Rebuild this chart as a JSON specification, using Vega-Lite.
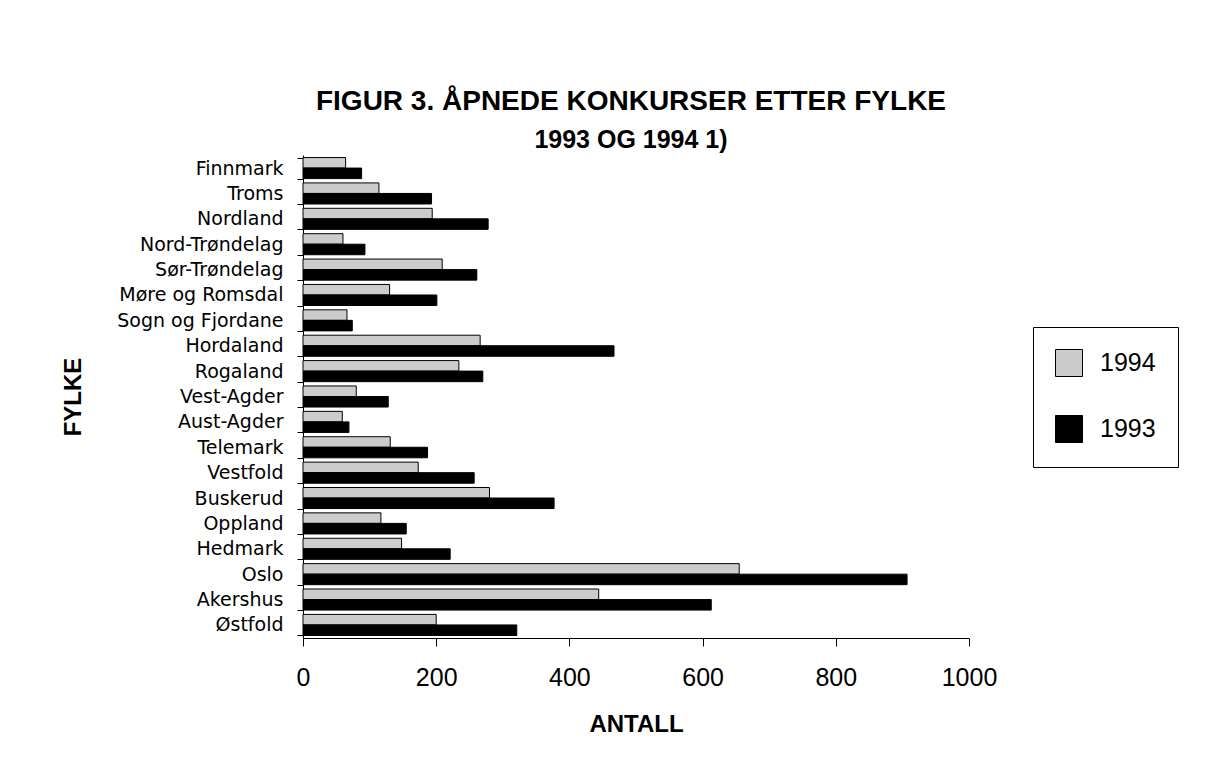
{
  "$schema": "https://vega.github.io/schema/vega-lite/v6.json",
  "width": 666,
  "height": 483,
  "autosize": {"type": "none"},
  "padding": {"left": 303, "top": 155, "right": 237, "bottom": 139},
  "background": "white",
  "title": {
    "text": "FIGUR 3. ÅPNEDE KONKURSER ETTER FYLKE",
    "subtitle": "1993 OG 1994 1)",
    "font": "Liberation Sans",
    "fontSize": 28,
    "fontWeight": "bold",
    "color": "black",
    "subtitleFont": "Liberation Sans",
    "subtitleFontSize": 25,
    "subtitleFontWeight": "bold",
    "subtitleColor": "black",
    "anchor": "middle",
    "offset": -7,
    "subtitlePadding": 12,
    "dx": -5
  },
  "data": {
    "values": [
      {"fylke": "Finnmark", "year": "1994", "antall": 64},
      {"fylke": "Finnmark", "year": "1993", "antall": 88},
      {"fylke": "Troms", "year": "1994", "antall": 114},
      {"fylke": "Troms", "year": "1993", "antall": 193},
      {"fylke": "Nordland", "year": "1994", "antall": 194},
      {"fylke": "Nordland", "year": "1993", "antall": 278},
      {"fylke": "Nord-Trøndelag", "year": "1994", "antall": 60},
      {"fylke": "Nord-Trøndelag", "year": "1993", "antall": 93},
      {"fylke": "Sør-Trøndelag", "year": "1994", "antall": 209},
      {"fylke": "Sør-Trøndelag", "year": "1993", "antall": 261},
      {"fylke": "Møre og Romsdal", "year": "1994", "antall": 130},
      {"fylke": "Møre og Romsdal", "year": "1993", "antall": 201},
      {"fylke": "Sogn og Fjordane", "year": "1994", "antall": 66},
      {"fylke": "Sogn og Fjordane", "year": "1993", "antall": 74},
      {"fylke": "Hordaland", "year": "1994", "antall": 266},
      {"fylke": "Hordaland", "year": "1993", "antall": 467},
      {"fylke": "Rogaland", "year": "1994", "antall": 234},
      {"fylke": "Rogaland", "year": "1993", "antall": 270},
      {"fylke": "Vest-Agder", "year": "1994", "antall": 80},
      {"fylke": "Vest-Agder", "year": "1993", "antall": 128},
      {"fylke": "Aust-Agder", "year": "1994", "antall": 59},
      {"fylke": "Aust-Agder", "year": "1993", "antall": 69},
      {"fylke": "Telemark", "year": "1994", "antall": 131},
      {"fylke": "Telemark", "year": "1993", "antall": 187},
      {"fylke": "Vestfold", "year": "1994", "antall": 173},
      {"fylke": "Vestfold", "year": "1993", "antall": 257},
      {"fylke": "Buskerud", "year": "1994", "antall": 280},
      {"fylke": "Buskerud", "year": "1993", "antall": 377},
      {"fylke": "Oppland", "year": "1994", "antall": 117},
      {"fylke": "Oppland", "year": "1993", "antall": 155},
      {"fylke": "Hedmark", "year": "1994", "antall": 148},
      {"fylke": "Hedmark", "year": "1993", "antall": 221},
      {"fylke": "Oslo", "year": "1994", "antall": 655},
      {"fylke": "Oslo", "year": "1993", "antall": 907},
      {"fylke": "Akershus", "year": "1994", "antall": 444},
      {"fylke": "Akershus", "year": "1993", "antall": 613},
      {"fylke": "Østfold", "year": "1994", "antall": 200},
      {"fylke": "Østfold", "year": "1993", "antall": 321}
    ]
  },
  "mark": {"type": "bar", "stroke": "black", "strokeWidth": 1},
  "encoding": {
    "y": {
      "field": "fylke",
      "type": "nominal",
      "sort": ["Finnmark", "Troms", "Nordland", "Nord-Trøndelag", "Sør-Trøndelag", "Møre og Romsdal", "Sogn og Fjordane", "Hordaland", "Rogaland", "Vest-Agder", "Aust-Agder", "Telemark", "Vestfold", "Buskerud", "Oppland", "Hedmark", "Oslo", "Akershus", "Østfold"],
      "scale": {"paddingInner": 0.17, "paddingOuter": 0.1},
      "axis": {
        "title": "FYLKE",
        "titleFont": "Liberation Sans",
        "titleFontSize": 24,
        "titleFontWeight": "bold",
        "titleColor": "black",
        "titleAngle": 270,
        "titleX": -230,
        "titleY": 241.5,
        "titleAlign": "center",
        "titleBaseline": "middle",
        "labelFont": "DejaVu Sans",
        "labelFontSize": 19,
        "labelColor": "black",
        "labelPadding": 14,
        "labelLimit": 0,
        "tickBand": "extent",
        "tickSize": 6,
        "tickColor": "black",
        "domainColor": "black",
        "grid": false
      }
    },
    "yOffset": {"field": "year", "type": "nominal", "sort": ["1994", "1993"]},
    "x": {
      "field": "antall",
      "type": "quantitative",
      "scale": {"domain": [0, 1000], "nice": false},
      "axis": {
        "title": "ANTALL",
        "values": [0, 200, 400, 600, 800, 1000],
        "format": "d",
        "titleFont": "Liberation Sans",
        "titleFontSize": 24,
        "titleFontWeight": "bold",
        "titleColor": "black",
        "titlePadding": 22,
        "labelFont": "Liberation Sans",
        "labelFontSize": 25,
        "labelColor": "black",
        "labelPadding": 19,
        "labelFlush": false,
        "labelOverlap": false,
        "tickSize": 8,
        "tickColor": "black",
        "domainColor": "black",
        "grid": false
      }
    },
    "color": {
      "field": "year",
      "type": "nominal",
      "scale": {"domain": ["1994", "1993"], "range": ["#cccccc", "#000000"]},
      "legend": {
        "title": null,
        "orient": "none",
        "legendX": 730,
        "legendY": 172,
        "strokeColor": "black",
        "padding": 22,
        "symbolType": "square",
        "symbolSize": 729,
        "symbolStrokeColor": "black",
        "symbolStrokeWidth": 1,
        "symbolOpacity": 1,
        "labelFont": "Liberation Sans",
        "labelFontSize": 25,
        "labelColor": "black",
        "labelOffset": 17,
        "rowPadding": 34
      }
    }
  },
  "config": {"view": {"stroke": null}}
}
